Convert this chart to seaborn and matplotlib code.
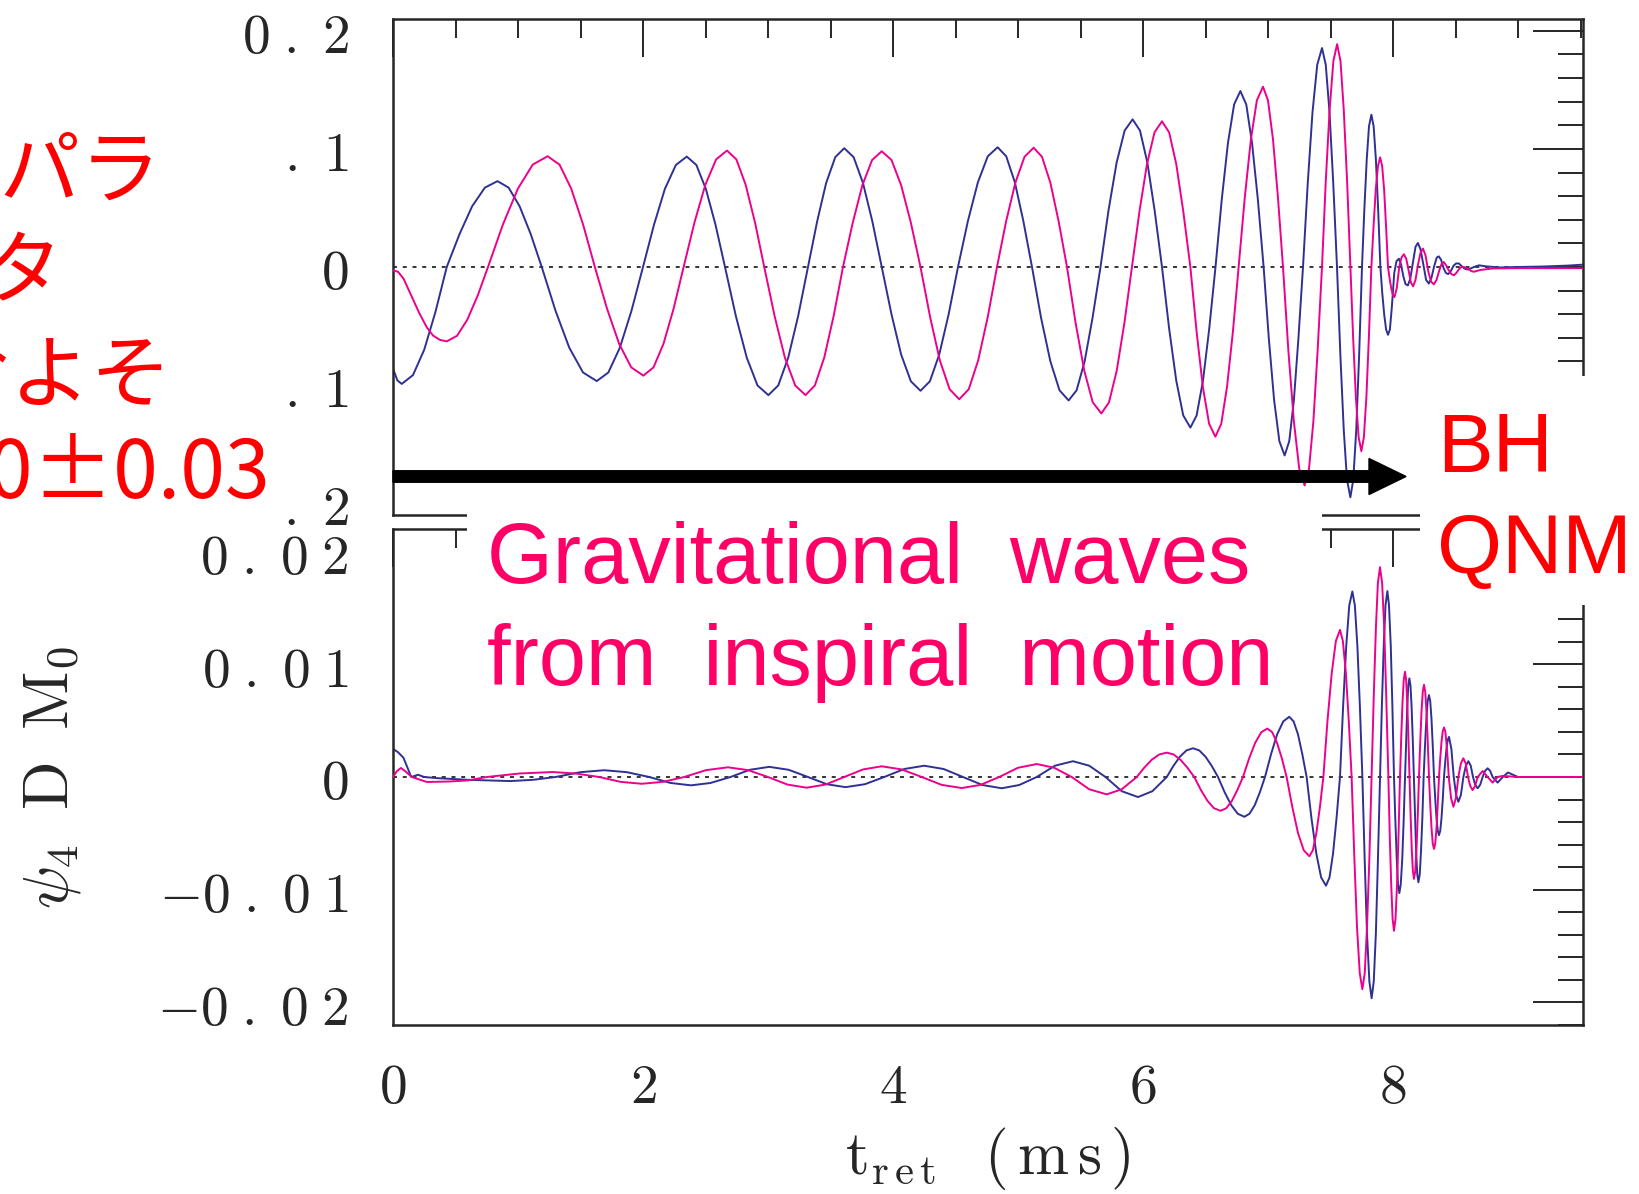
import matplotlib
matplotlib.use("Agg")
import matplotlib.pyplot as plt
import seaborn as sns
import pandas as pd
from matplotlib.patches import Rectangle, FancyArrow
from matplotlib.ticker import FixedLocator, FixedFormatter, MultipleLocator

# ---------------- data ----------------
# top panel: (t_ret [ms], value)
top_blue = [
    (0.0, -0.086), (0.035, -0.096), (0.07, -0.099),
    (0.16, -0.0915), (0.25, -0.070), (0.34, -0.0379), (0.43, 0.0),
    (0.532, 0.0278), (0.633, 0.0514), (0.735, 0.0672), (0.836, 0.0727),
    (0.925, 0.0672), (1.013, 0.0514), (1.102, 0.0278), (1.19, 0.0),
    (1.30, -0.0370), (1.41, -0.0683), (1.52, -0.0893), (1.63, -0.0966),
    (1.723, -0.0893), (1.815, -0.0683), (1.908, -0.0370), (2.0, 0.0),
    (2.088, 0.0358), (2.175, 0.0661), (2.263, 0.0864), (2.35, 0.0935),
    (2.427, 0.0864), (2.503, 0.0661), (2.58, 0.0358), (2.656, 0.0),
    (2.743, -0.0416), (2.83, -0.0767), (2.916, -0.1003), (3.003, -0.1085),
    (3.082, -0.1003), (3.162, -0.0767), (3.241, -0.0416), (3.32, 0.0),
    (3.393, 0.0385), (3.465, 0.0711), (3.538, 0.093), (3.61, 0.1006),
    (3.685, 0.093), (3.76, 0.0711), (3.835, 0.0385), (3.91, 0.0),
    (3.988, -0.0401), (4.065, -0.0741), (4.143, -0.0968), (4.22, -0.1048),
    (4.295, -0.0968), (4.37, -0.0741), (4.445, -0.0401), (4.52, 0.0),
    (4.599, 0.0388), (4.679, 0.0717), (4.758, 0.0937), (4.837, 0.1014),
    (4.906, 0.0937), (4.975, 0.0717), (5.043, 0.0388), (5.112, 0.0),
    (5.185, -0.0433), (5.259, -0.0799), (5.332, -0.1044), (5.405, -0.113),
    (5.469, -0.1044), (5.533, -0.0799), (5.596, -0.0433), (5.66, 0.0),
    (5.724, 0.0479), (5.789, 0.0884), (5.853, 0.1155), (5.917, 0.125),
    (5.976, 0.1155), (6.035, 0.0884), (6.093, 0.0479), (6.152, 0.0),
    (6.209, -0.0521), (6.266, -0.0962), (6.322, -0.1257), (6.379, -0.136),
    (6.429, -0.1257), (6.48, -0.0962), (6.53, -0.0521), (6.58, 0.0),
    (6.63, 0.0571), (6.68, 0.1053), (6.729, 0.1377), (6.779, 0.149),
    (6.826, 0.1377), (6.872, 0.1053), (6.919, 0.0571), (6.965, 0.0),
    (7.007, -0.0611), (7.049, -0.1128), (7.091, -0.1475), (7.133, -0.1596),
    (7.17, -0.1475), (7.207, -0.1128), (7.243, -0.0611), (7.28, 0.0),
    (7.318, 0.071), (7.356, 0.1311), (7.394, 0.1713), (7.432, 0.1854),
    (7.462, 0.1713), (7.492, 0.1311), (7.522, 0.071), (7.552, 0.0),
    (7.579, -0.0747), (7.606, -0.1379), (7.632, -0.1802), (7.659, -0.195),
    (7.682, -0.1802), (7.706, -0.1379), (7.729, -0.0747), (7.752, 0.0),
    (7.771, 0.0494), (7.79, 0.0912), (7.808, 0.1192), (7.827, 0.129),
    (7.845, 0.1192), (7.863, 0.0912), (7.881, 0.0494), (7.899, 0.0),
    (7.914, -0.022), (7.93, -0.0406), (7.945, -0.053), (7.96, -0.0574),
    (7.975, -0.053), (7.99, -0.035), (8.01, -0.005), (8.028, 0.005), (8.047, 0.007),
    (8.065, 0.002), (8.083, -0.008), (8.1, -0.0145), (8.119, -0.0156), (8.138, -0.01),
    (8.16, 0.004), (8.18, 0.017), (8.199, 0.0204), (8.22, 0.015), (8.243, 0.002),
    (8.265, -0.011), (8.287, -0.014), (8.308, -0.009), (8.33, 0.001), (8.35, 0.008),
    (8.367, 0.009), (8.385, 0.006), (8.405, -0.001), (8.423, -0.005), (8.441, -0.006),
    (8.46, -0.004), (8.484, 0.001), (8.505, 0.003), (8.527, 0.003), (8.547, 0.001),
    (8.567, -0.001), (8.587, -0.002), (8.607, -0.002), (8.647, 0.0), (8.687, 0.0014),
    (8.75, 0.0005), (8.85, -0.0004), (9.0, 0.0), (9.2, 0.0004), (9.4, 0.0012),
    (9.52, 0.002),
]
top_pink = [
    (0.0, -0.003), (0.04, -0.004), (0.085, -0.01), (0.15, -0.025), (0.21, -0.039),
    (0.27, -0.051), (0.32, -0.058), (0.375, -0.0617), (0.43, -0.063),
    (0.513, -0.0582), (0.595, -0.0445), (0.678, -0.0241), (0.76, 0.0),
    (0.879, 0.0359), (0.999, 0.0663), (1.118, 0.0867), (1.237, 0.0938),
    (1.332, 0.0867), (1.426, 0.0663), (1.521, 0.0359), (1.615, 0.0),
    (1.712, -0.0352), (1.809, -0.065), (1.906, -0.085), (2.003, -0.092),
    (2.084, -0.085), (2.164, -0.065), (2.245, -0.0352), (2.325, 0.0),
    (2.412, 0.0378), (2.499, 0.0697), (2.585, 0.0911), (2.672, 0.0986),
    (2.747, 0.0911), (2.821, 0.0697), (2.896, 0.0378), (2.97, 0.0),
    (3.053, -0.0416), (3.135, -0.0767), (3.218, -0.1003), (3.30, -0.1085),
    (3.375, -0.1003), (3.45, -0.0767), (3.525, -0.0416), (3.60, 0.0),
    (3.678, 0.0375), (3.755, 0.0693), (3.833, 0.0906), (3.91, 0.098),
    (3.988, 0.0906), (4.065, 0.0693), (4.143, 0.0375), (4.22, 0.0),
    (4.298, -0.0429), (4.375, -0.0792), (4.453, -0.1035), (4.53, -0.112),
    (4.606, -0.1035), (4.681, -0.0792), (4.757, -0.0429), (4.832, 0.0),
    (4.905, 0.0387), (4.979, 0.0714), (5.052, 0.0933), (5.125, 0.101),
    (5.192, 0.0933), (5.259, 0.0714), (5.325, 0.0387), (5.392, 0.0),
    (5.461, -0.0475), (5.53, -0.0877), (5.598, -0.1146), (5.667, -0.124),
    (5.728, -0.1146), (5.79, -0.0877), (5.851, -0.0475), (5.912, 0.0),
    (5.972, 0.0473), (6.032, 0.0872), (6.092, 0.114), (6.152, 0.1234),
    (6.209, 0.114), (6.266, 0.0872), (6.322, 0.0473), (6.379, 0.0),
    (6.429, -0.055), (6.479, -0.1016), (6.529, -0.1328), (6.579, -0.1437),
    (6.626, -0.1328), (6.672, -0.1016), (6.719, -0.055), (6.765, 0.0),
    (6.814, 0.0585), (6.863, 0.108), (6.911, 0.1411), (6.96, 0.1527),
    (7.0, 0.1411), (7.04, 0.108), (7.08, 0.0585), (7.12, 0.0),
    (7.163, -0.0709), (7.207, -0.1308), (7.25, -0.1709), (7.293, -0.185),
    (7.328, -0.1709), (7.363, -0.1308), (7.397, -0.0709), (7.432, 0.0),
    (7.462, 0.0723), (7.493, 0.1334), (7.523, 0.1744), (7.553, 0.1887),
    (7.58, 0.1744), (7.606, 0.1334), (7.633, 0.0723), (7.659, 0.0),
    (7.681, -0.0597), (7.703, -0.1103), (7.725, -0.1441), (7.747, -0.156),
    (7.767, -0.1441), (7.787, -0.1103), (7.807, -0.0597), (7.827, 0.0),
    (7.845, 0.0355), (7.862, 0.0656), (7.88, 0.0857), (7.897, 0.0928),
    (7.913, 0.0857), (7.929, 0.0656), (7.944, 0.0355), (7.96, 0.0),
    (7.973, -0.0098), (7.986, -0.018), (7.999, -0.0236), (8.012, -0.0255),
    (8.03, -0.018), (8.05, 0.0), (8.068, 0.008), (8.087, 0.0108), (8.106, 0.007),
    (8.125, -0.003), (8.143, -0.013), (8.161, -0.0164), (8.18, -0.011), (8.20, 0.002),
    (8.22, 0.012), (8.239, 0.0156), (8.26, 0.01), (8.283, -0.004), (8.305, -0.0125),
    (8.327, -0.0147), (8.348, -0.011), (8.37, -0.003), (8.39, 0.003), (8.407, 0.0042),
    (8.427, 0.001), (8.447, -0.003), (8.467, -0.006), (8.487, -0.007), (8.507, -0.005),
    (8.527, -0.002), (8.547, 0.0), (8.567, 0.0), (8.587, -0.001), (8.607, -0.002),
    (8.627, -0.0035), (8.647, -0.004), (8.7, -0.0025), (8.8, -0.0012), (9.0, -0.001),
    (9.52, -0.001),
]
# bottom panel
bottom_blue = [
    (0.0, 0.0025), (0.04, 0.0022), (0.084, 0.0017), (0.146, 0.0), (0.2, 0.0002),
    (0.25, 0.0), (0.35, -0.0001), (0.6, -0.00025), (0.94, -0.00036), (1.12, -0.00025),
    (1.3, 0.0), (1.5, 0.00043), (1.69, 0.0006), (1.87, 0.00043), (2.05, 0.0),
    (2.22, -0.00053), (2.385, -0.00074), (2.54, -0.00053), (2.7, 0.0), (2.855, 0.00064),
    (3.01, 0.0009), (3.165, 0.00064), (3.32, 0.0), (3.47, -0.00064), (3.62, -0.0009),
    (3.775, -0.00064), (3.93, 0.0), (4.09, 0.00071), (4.25, 0.001), (4.405, 0.00071),
    (4.56, 0.0), (4.715, -0.00071), (4.87, -0.001), (5.01, -0.00071), (5.15, 0.0),
    (5.295, 0.001), (5.44, 0.0014), (5.57, 0.001), (5.70, 0.0), (5.83, -0.00126),
    (5.96, -0.00178), (6.075, -0.00126), (6.19, 0.0),
    (6.243, 0.00098), (6.295, 0.0018), (6.348, 0.00236), (6.40, 0.00255),
    (6.45, 0.00236), (6.50, 0.0018), (6.55, 0.00098), (6.60, 0.0),
    (6.653, -0.00135), (6.706, -0.0025), (6.758, -0.00326), (6.811, -0.00353),
    (6.852, -0.00326), (6.894, -0.0025), (6.935, -0.00135), (6.976, 0.0),
    (7.025, 0.00205), (7.073, 0.00378), (7.122, 0.00493), (7.17, 0.00534),
    (7.205, 0.00493), (7.24, 0.00378), (7.274, 0.00205), (7.309, 0.0),
    (7.348, -0.00369), (7.387, -0.00682), (7.425, -0.00891), (7.464, -0.00964),
    (7.492, -0.00891), (7.52, -0.00682), (7.548, -0.00369), (7.576, 0.0),
    (7.601, 0.0063), (7.626, 0.01164), (7.65, 0.01521), (7.675, 0.01646),
    (7.695, 0.01521), (7.715, 0.01164), (7.735, 0.0063), (7.755, 0.0),
    (7.774, -0.00752), (7.792, -0.01388), (7.811, -0.01814), (7.829, -0.01963),
    (7.846, -0.01814), (7.863, -0.01388), (7.879, -0.00752), (7.896, 0.0),
    (7.911, 0.00632), (7.926, 0.01166), (7.940, 0.01524), (7.955, 0.01649),
    (7.968, 0.01524), (7.982, 0.01166), (7.995, 0.00632), (8.008, 0.0),
    (8.019, -0.00394), (8.03, -0.00728), (8.04, -0.00952), (8.051, -0.0103),
    (8.062, -0.00952), (8.074, -0.00728), (8.085, -0.00394), (8.096, 0.0),
    (8.105, 0.00335), (8.114, 0.00619), (8.122, 0.00809), (8.131, 0.00875),
    (8.14, 0.00809), (8.149, 0.00619), (8.158, 0.00335), (8.167, 0.0),
    (8.176, -0.00358), (8.185, -0.0066), (8.194, -0.00863), (8.203, -0.00934),
    (8.214, -0.00863), (8.224, -0.0066), (8.235, -0.00358), (8.245, 0.0),
    (8.256, 0.00278), (8.267, 0.00514), (8.277, 0.00672), (8.288, 0.00727),
    (8.298, 0.00672), (8.308, 0.00514), (8.318, 0.00278), (8.328, 0.0),
    (8.338, -0.00198), (8.348, -0.00365), (8.358, -0.00477), (8.368, -0.00516),
    (8.378, -0.00477), (8.388, -0.00365), (8.398, -0.00198), (8.408, 0.0),
    (8.418, 0.00136), (8.428, 0.00252), (8.438, 0.00329), (8.448, 0.00356),
    (8.467, 0.0025), (8.486, 0.0), (8.505, -0.0016), (8.523, -0.0022), (8.543, -0.0016),
    (8.563, 0.0), (8.583, 0.001), (8.603, 0.0014), (8.622, 0.001), (8.64, 0.0),
    (8.658, -0.0007), (8.677, -0.001), (8.697, -0.0007), (8.717, 0.0), (8.737, 0.00055),
    (8.757, 0.00077), (8.777, 0.00055), (8.797, 0.0), (8.837, -0.0005), (8.878, 0.0),
    (8.92, 0.0004), (9.0, 0.0), (9.52, 0.0),
]
bottom_pink = [
    (0.0, 0.0), (0.03, 0.0005), (0.063, 0.0008), (0.1, 0.0005), (0.15, 0.0),
    (0.27, -0.00044), (0.45, -0.0004), (0.6, -0.0003), (0.75, 0.0), (1.01, 0.00031),
    (1.276, 0.00044), (1.46, 0.00031), (1.65, 0.0), (1.82, -0.00043), (1.99, -0.0006),
    (2.16, -0.00043), (2.33, 0.0), (2.505, 0.00061), (2.68, 0.00086), (2.84, 0.00061),
    (3.0, 0.0), (3.155, -0.00067), (3.31, -0.00095), (3.46, -0.00067), (3.61, 0.0),
    (3.76, 0.00067), (3.91, 0.00095), (4.07, 0.00067), (4.23, 0.0), (4.39, -0.0007),
    (4.55, -0.00098), (4.70, -0.0007), (4.85, 0.0), (5.0, 0.00082), (5.15, 0.00115),
    (5.29, 0.00082), (5.43, 0.0), (5.57, -0.00109), (5.71, -0.00154), (5.83, -0.00109),
    (5.95, 0.0),
    (6.01, 0.00083), (6.07, 0.00153), (6.13, 0.002), (6.19, 0.00216),
    (6.245, 0.002), (6.30, 0.00153), (6.355, 0.00083), (6.41, 0.0),
    (6.463, -0.00115), (6.516, -0.00212), (6.568, -0.00277), (6.621, -0.003),
    (6.666, -0.00277), (6.711, -0.00212), (6.755, -0.00115), (6.80, 0.0),
    (6.849, 0.00165), (6.898, 0.00304), (6.946, 0.00397), (6.995, 0.0043),
    (7.034, 0.00397), (7.072, 0.00304), (7.111, 0.00165), (7.149, 0.0),
    (7.195, -0.00269), (7.24, -0.00497), (7.286, -0.0065), (7.331, -0.00703),
    (7.359, -0.0065), (7.387, -0.00497), (7.415, -0.00269), (7.443, 0.0),
    (7.476, 0.005), (7.51, 0.00923), (7.543, 0.01206), (7.576, 0.01305),
    (7.599, 0.01206), (7.623, 0.00923), (7.646, 0.005), (7.669, 0.0),
    (7.691, -0.00721), (7.712, -0.01331), (7.734, -0.0174), (7.755, -0.01883),
    (7.774, -0.0174), (7.792, -0.01331), (7.811, -0.00721), (7.829, 0.0),
    (7.846, 0.00713), (7.863, 0.01316), (7.879, 0.0172), (7.896, 0.01862),
    (7.913, 0.0172), (7.93, 0.01316), (7.946, 0.00713), (7.963, 0.0),
    (7.974, -0.00522), (7.986, -0.00964), (7.997, -0.0126), (8.008, -0.01364),
    (8.02, -0.0126), (8.032, -0.00964), (8.044, -0.00522), (8.056, 0.0),
    (8.066, 0.00358), (8.076, 0.0066), (8.086, 0.00863), (8.096, 0.00934),
    (8.105, 0.00863), (8.114, 0.0066), (8.123, 0.00358), (8.132, 0.0),
    (8.141, -0.00346), (8.15, -0.00639), (8.159, -0.00835), (8.168, -0.00904),
    (8.178, -0.00835), (8.188, -0.00639), (8.198, -0.00346), (8.208, 0.0),
    (8.218, 0.00313), (8.228, 0.00578), (8.238, 0.00756), (8.248, 0.00818),
    (8.258, 0.00756), (8.268, 0.00578), (8.278, 0.00313), (8.288, 0.0),
    (8.298, -0.00244), (8.308, -0.00451), (8.318, -0.0059), (8.328, -0.00638),
    (8.338, -0.0059), (8.348, -0.00451), (8.358, -0.00244), (8.368, 0.0),
    (8.378, 0.00168), (8.388, 0.0031), (8.398, 0.00406), (8.408, 0.00439),
    (8.418, 0.00406), (8.427, 0.0031), (8.437, 0.00168), (8.446, 0.0),
    (8.465, -0.0019), (8.483, -0.00264), (8.503, -0.0019), (8.523, 0.0),
    (8.543, 0.0012), (8.563, 0.00166), (8.582, 0.0012), (8.60, 0.0),
    (8.618, -0.0008), (8.637, -0.00116), (8.657, -0.0008), (8.677, 0.0),
    (8.717, 0.00053), (8.757, 0.0), (8.797, -0.0005), (8.837, 0.0), (8.877, 0.0001),
    (9.0, 0.0), (9.52, 0.0),
]

x_ticks = [0, 2, 4, 6, 8]
x_tick_labels = [r"$0$", r"$2$", r"$4$", r"$6$", r"$8$"]
top_y_ticks = [-0.2, -0.1, 0.0, 0.1, 0.2]
top_y_labels = [r"$-0\;.\;2$", r"$-0\;.\;1$", r"$0$", r"$0\;.\;1$", r"$0\;.\;2$"]
bot_y_ticks = [-0.02, -0.01, 0.0, 0.01, 0.02]
bot_y_labels = [r"$-0\;.\;0\;2$", r"$-0\;.\;0\;1$", r"$0$", r"$0\;.\;0\;1$", r"$0\;.\;0\;2$"]
jp_lines = ["スピンパラ", "メータ", "はおよそ", "0.70±0.03"]
gw_lines = ["Gravitational  waves", "from  inspiral  motion"]
bh_lines = ["BH", "QNM"]

# ---------------- style ----------------
sns.set_style("white")
plt.rcParams["font.family"] = ["Noto Sans CJK JP", "DejaVu Sans"]
plt.rcParams["mathtext.fontset"] = "cm"

BLUE = "#2E3192"
PINK = "#EC008C"
INK = "#262626"

W, H = 1639, 1194
fig = plt.figure(figsize=(W / 100, H / 100), dpi=100)
fig.patch.set_facecolor("white")

ax1 = fig.add_axes([393 / W, (H - 515) / H, 1190 / W, 496 / H])
ax2 = fig.add_axes([393 / W, (H - 1025) / H, 1190 / W, 496 / H])

for ax, blue, pink in ((ax1, top_blue, top_pink), (ax2, bottom_blue, bottom_pink)):
    ax.axhline(0, color=INK, lw=1.3, ls=(0, (2.2, 3.2)), zorder=1)
    dfb = pd.DataFrame(blue, columns=["t", "v"])
    dfp = pd.DataFrame(pink, columns=["t", "v"])
    sns.lineplot(data=dfb, x="t", y="v", ax=ax, color=BLUE, lw=1.4,
                 sort=False, estimator=None, legend=False, zorder=2)
    sns.lineplot(data=dfp, x="t", y="v", ax=ax, color=PINK, lw=1.4,
                 sort=False, estimator=None, legend=False, zorder=3)
    ax.set_xlabel("")
    ax.set_ylabel("")
    ax.set_xlim(0, 9.52)
    for s in ax.spines.values():
        s.set_visible(True)
        s.set_color(INK)
        s.set_linewidth(1.8)
    ax.xaxis.set_major_locator(FixedLocator(x_ticks))
    ax.xaxis.set_major_formatter(FixedFormatter(x_tick_labels))
    ax.xaxis.set_minor_locator(MultipleLocator(0.5))
    ax.tick_params(which="both", direction="in", top=True, right=True,
                   colors=INK, width=1.4, labelsize=40)
    ax.tick_params(axis="y", which="major", length=36, pad=32)
    ax.tick_params(axis="y", which="minor", length=18)
    ax.tick_params(axis="x", which="major", length=27, pad=24)
    ax.tick_params(axis="x", which="minor", length=13.7)
    ax.set_facecolor("white")

ax1.set_ylim(-0.21, 0.21)
ax1.yaxis.set_major_locator(FixedLocator(top_y_ticks))
ax1.yaxis.set_major_formatter(FixedFormatter(top_y_labels))
ax1.yaxis.set_minor_locator(MultipleLocator(0.02))
ax1.tick_params(axis="x", labelbottom=False)

ax2.set_ylim(-0.022, 0.022)
ax2.yaxis.set_major_locator(FixedLocator(bot_y_ticks))
ax2.yaxis.set_major_formatter(FixedFormatter(bot_y_labels))
ax2.yaxis.set_minor_locator(MultipleLocator(0.002))

ax2.set_xlabel(r"$\mathrm{t}_{\mathrm{r\,e\,t}}\;\;\;(\,\mathrm{m}\,\mathrm{s}\,)$", fontsize=44)
ax2.xaxis.set_label_coords(0.5, (1025 - 1159) / 496)
ax2.xaxis.label.set_va("center")
ax2.set_ylabel(r"$\psi_4\;\;\mathrm{D}\;\;\mathrm{M}_0$", fontsize=46)
ax2.yaxis.set_label_coords((50 - 393) / 1190, 0.5)
ax2.yaxis.label.set_va("center")

# ---------------- slide overlays ----------------
def px_rect(x0, y0, x1, y1):
    return Rectangle((x0 / 100, (H - y1) / 100), (x1 - x0) / 100, (y1 - y0) / 100,
                     transform=fig.dpi_scale_trans, facecolor="white",
                     edgecolor="none", zorder=5)

fig.add_artist(px_rect(0, 95, 284, 528))       # behind Japanese text
fig.add_artist(px_rect(467, 490, 1322, 700))   # behind "Gravitational waves"
fig.add_artist(px_rect(1420, 376, 1639, 605))  # behind "BH QNM"

arrow = FancyArrow(393 / 100, (H - 476.5) / 100, (1406 - 393) / 100, 0,
                   width=0.115, head_width=0.36, head_length=0.37,
                   length_includes_head=True, transform=fig.dpi_scale_trans,
                   color="black", zorder=7)
fig.add_artist(arrow)

jp_right = [161, 63, 172, 270]
jp_base = [197, 297, 401, 498]
for txt, xr, yb in zip(jp_lines, jp_right, jp_base):
    fig.text(xr / W, (H - yb) / H, txt, color="#FF0000", fontsize=58,
             family=["Noto Sans CJK JP", "DejaVu Sans"], ha="right",
             va="baseline", zorder=8)

for txt, yb in zip(gw_lines, [583, 685]):
    fig.text(487 / W, (H - yb) / H, txt, color="#FF0066", fontsize=61,
             family=["Liberation Sans", "DejaVu Sans"], ha="left",
             va="baseline", zorder=8)

for txt, yb in zip(bh_lines, [472, 573]):
    fig.text(1437 / W, (H - yb) / H, txt, color="#FF0000", fontsize=60,
             family=["Liberation Sans", "DejaVu Sans"], ha="left",
             va="baseline", zorder=8)

fig.savefig("out.png", dpi=100, facecolor="white")
